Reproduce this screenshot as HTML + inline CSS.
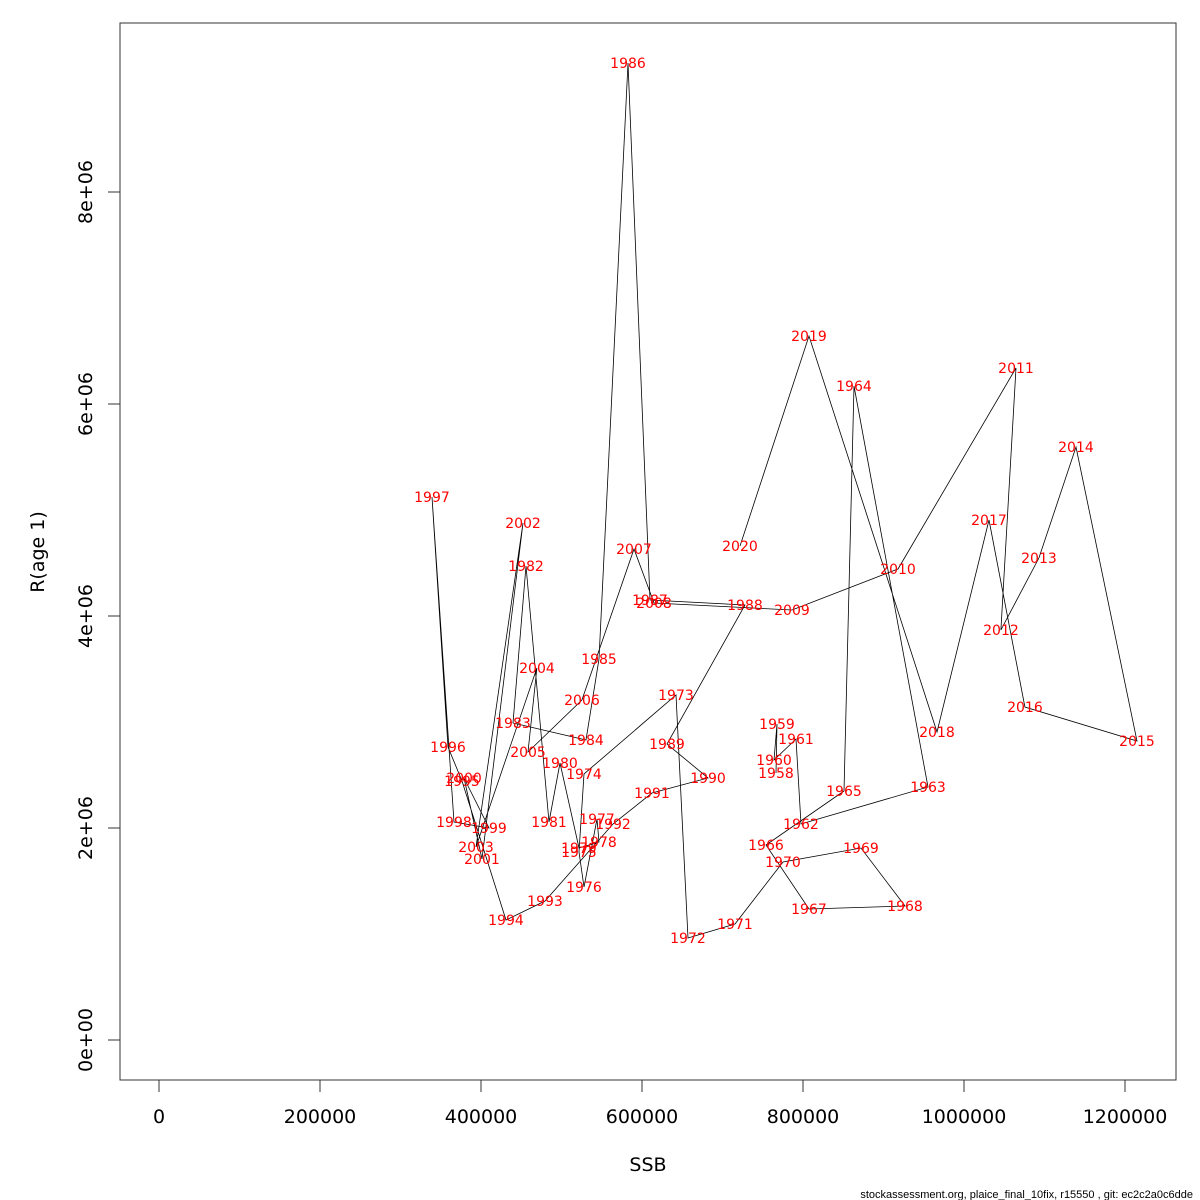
<!DOCTYPE html>
<html><head><meta charset="utf-8">
<style>
html,body{margin:0;padding:0;background:#fff;}
svg{display:block;font-family:"DejaVu Sans","Liberation Sans",sans-serif;}
</style></head>
<body>
<svg id="chart" width="1200" height="1200" viewBox="0 0 1200 1200">
<rect x="120" y="23" width="1056" height="1057" fill="none" stroke="#333" stroke-width="1"/>
<g id="xaxis"></g>
<g id="yaxis"></g>
<g id="series"></g>
<text x="648" y="1171" font-size="19" text-anchor="middle">SSB</text>
<text transform="translate(44,552) rotate(-90)" font-size="19" text-anchor="middle">R(age 1)</text>
<text x="1193" y="1198" font-size="11" text-anchor="end" font-family="Liberation Sans, sans-serif">stockassessment.org, plaice_final_10fix, r15550 , git: ec2c2a0c6dde</text>
</svg>
<script>
const years = [1958,1959,1960,1961,1962,1963,1964,1965,1966,1967,1968,1969,1970,1971,1972,1973,1974,1975,1976,1977,1978,1979,1980,1981,1982,1983,1984,1985,1986,1987,1988,1989,1990,1991,1992,1993,1994,1995,1996,1997,1998,1999,2000,2001,2002,2003,2004,2005,2006,2007,2008,2009,2010,2011,2012,2013,2014,2015,2016,2017,2018,2019,2020];
const ssb = [766400,767700,763950,791300,797500,955300,863300,850900,754000,807400,926700,872000,775100,715500,657100,642200,527900,521700,527900,544100,546600,521700,498100,484500,455900,439700,530400,546600,582600,609900,727900,631000,682000,612400,564000,479500,431000,376400,359000,339100,366400,409900,378900,401200,452200,393800,469500,458400,525400,590000,614900,786300,918000,1064600,1045900,1093100,1139100,1214900,1075700,1031000,966400,807400,721700];
const recruits = [2519000,2981100,2641500,2839600,2037700,2386800,6169800,2349100,1839600,1235900,1264200,1811300,1679300,1094300,962300,3254700,2509400,1773600,1443400,2084900,1867900,1811300,2613200,2056600,4471700,2990600,2830200,3594400,9217000,4151000,4103800,2792500,2471700,2330200,2037700,1311300,1132100,2443400,2764200,5122700,2056600,2000000,2471700,1707600,4877400,1820800,3509400,2717000,3207600,4632100,4122700,4056600,4443400,6339600,3867900,4547200,5594400,2820800,3141500,4905700,2905700,6641500,4660400];
const xTicks = [0,200000,400000,600000,800000,1000000,1200000];
const xTickLabels = ["0","200000","400000","600000","800000","1000000","1200000"];
const yTicks = [0,2000000,4000000,6000000,8000000];
const yTickLabels = ["0e+00","2e+06","4e+06","6e+06","8e+06"];

const NS = "http://www.w3.org/2000/svg";
function X(v){return 159 + v*0.000805;}
function Y(v){return 1040 - v*0.000106;}
function mk(tag, attrs, parent){const e=document.createElementNS(NS,tag);for(const k in attrs)e.setAttribute(k,attrs[k]);parent.appendChild(e);return e;}

const xa=document.getElementById('xaxis');
mk('line',{x1:X(xTicks[0]),x2:X(xTicks[xTicks.length-1]),y1:1080,y2:1080,stroke:'#333'},xa);
xTicks.forEach((t,i)=>{
  const l=mk('line',{x1:X(t),x2:X(t),y1:1080,y2:1092,stroke:'#333'},xa);
  
  
  const tx=mk('text',{x:X(t),y:1123,'font-size':19,'text-anchor':'middle'},xa);
  tx.textContent=xTickLabels[i];
  
  
});
const ya=document.getElementById('yaxis');
mk('line',{x1:120,x2:120,y1:Y(yTicks[0]),y2:Y(yTicks[yTicks.length-1]),stroke:'#333'},ya);
yTicks.forEach((t,i)=>{
  const l=mk('line',{x1:108,x2:120,y1:Y(t),y2:Y(t),stroke:'#333'},ya);
  
  
  const tx=mk('text',{transform:`translate(92,${Y(t)}) rotate(-90)`,'font-size':19,'text-anchor':'middle'},ya);
  tx.textContent=yTickLabels[i];
  
  
});

const sg=document.getElementById('series');
const pts=ssb.map((s,i)=>X(s).toFixed(1)+','+Y(recruits[i]).toFixed(1)).join(' ');
const pl=mk('polyline',{points:pts,fill:'none',stroke:'#000','stroke-width':0.8},sg);


years.forEach((yr,i)=>{
  const t=mk('text',{x:X(ssb[i]),y:Y(recruits[i])+5,'font-size':14,fill:'#ff0000','text-anchor':'middle'},sg);
  t.textContent=String(yr);
  
  
});
</script>
</body></html>
